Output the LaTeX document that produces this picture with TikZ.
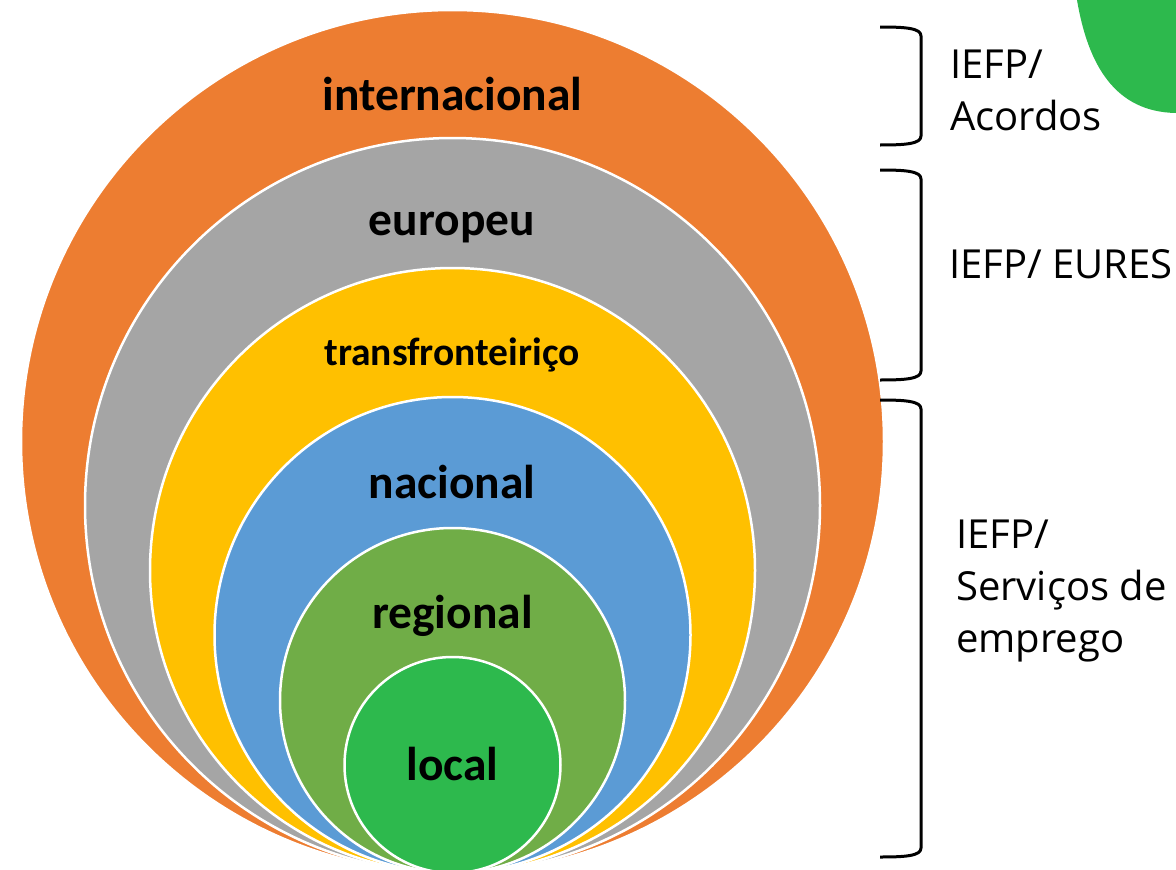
\documentclass[tikz,border=0pt]{standalone}
\usepackage{fontspec}
\setmainfont{Carlito}
\newfontfamily\sidefont{Open Sans}
\definecolor{corange}{HTML}{ED7D31}
\definecolor{cgray}{HTML}{A5A5A5}
\definecolor{cyellow}{HTML}{FFC000}
\definecolor{cblue}{HTML}{5B9BD5}
\definecolor{cregional}{HTML}{70AD47}
\definecolor{clocal}{HTML}{2DB94D}
\begin{document}
\begin{tikzpicture}[x=1pt,y=-1pt,
  ring/.style={draw=white,line width=2.5pt},
  lvl/.style={anchor=base,inner sep=0pt,font=\bfseries\fontsize{47.5}{56}\selectfont},
  lvlsmall/.style={anchor=base,inner sep=0pt,font=\bfseries\fontsize{39.5}{46}\selectfont},
  side/.style={anchor=base west,inner sep=0pt,font=\sidefont\fontsize{40}{50}\selectfont},
  bracketline/.style={draw=black,line width=3pt,line join=round}]
\useasboundingbox (0,0) rectangle (1176,870);
% blob top right
\fill[clocal] (1077,0) .. controls (1088,65) and (1115,112) .. (1176,113) -- (1176,0) -- cycle;
% nested circles
\path[ring,fill=corange] (452.5,441.5) circle[radius=431.5pt];
\path[ring,fill=cgray] (452.5,505.5) circle[radius=367.5pt];
\path[ring,fill=cyellow] (452.5,570.5) circle[radius=302.5pt];
\path[ring,fill=cblue] (452.5,635) circle[radius=238pt];
\path[ring,fill=cregional] (452.5,700.5) circle[radius=172.5pt];
\path[ring,fill=clocal] (452.5,765) circle[radius=108pt];
% labels
\node[lvl] (intl) at (452.5,110) {internacional};
\node[lvl] (euro) at (452,235) {europeu};
\node[lvlsmall] (trans) at (452,365) {transfronteiriço};
\node[lvl] (nac) at (452,498) {nacional};
\node[lvl] (reg) at (452.5,628) {regional};
\node[lvl] (loc) at (452.5,780) {local};
% brackets
\coordinate (b1t) at (880,27);
\coordinate (b1b) at (880,145);
\coordinate (b2t) at (880,170);
\coordinate (b2b) at (880,380);
\coordinate (b3t) at (880,400);
\coordinate (b3b) at (880,857);
\draw[bracketline] (b1t) .. controls (905,27) and (921,28) .. (921,36) -- (921,136) .. controls (921,144) and (905,145) .. (b1b);
\draw[bracketline] (b2t) .. controls (905,170) and (921,171) .. (921,179) -- (921,371) .. controls (921,379) and (905,380) .. (b2b);
\draw[bracketline] (b3t) .. controls (905,400) and (921,401) .. (921,409) -- (921,848) .. controls (921,856) and (905,857) .. (b3b);
% side texts
\node[side] (s1a) at (950,78) {IEFP/};
\node[side] (s1b) at (950,130) {Acordos};
\node[side] (s2) at (949,278) {IEFP/ EURES};
\node[side] (s3a) at (956,548) {IEFP/};
\node[side] (s3b) at (956,600) {Serviços de};
\node[side] (s3c) at (956,652) {emprego};
\end{tikzpicture}
\end{document}
